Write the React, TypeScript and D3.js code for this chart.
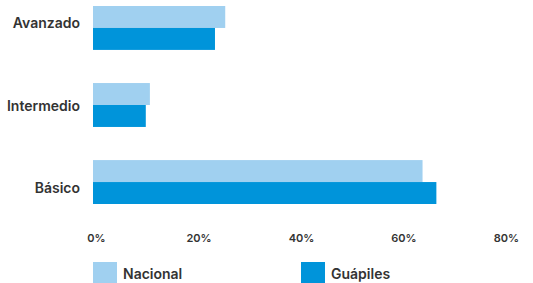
import * as d3 from "d3";
import { useEffect, useRef } from "react";

const categories = ["Avanzado", "Intermedio", "Básico"];
const seriesNames = ["Nacional", "Guápiles"];
const nacional = [25.8, 11.1, 64.3];
const guapiles = [23.8, 10.3, 67.0];
const xTicks = [0, 20, 40, 60, 80];

const colors = ["#a0d0f0", "#0094da"];
const textColor = "#333333";
const font = "Inter, 'Noto Sans', sans-serif";

const width = 533;
const height = 283;

export default function App() {
  const svgRef = useRef<SVGSVGElement>(null);

  useEffect(() => {
    const svg = d3.select(svgRef.current);
    svg.selectAll("*").remove();

    const x = d3.scaleLinear().domain([0, 80]).range([93, 503]);

    const y = d3
      .scaleBand<string>()
      .domain(categories)
      .range([6, 204])
      .paddingInner(0.43)
      .paddingOuter(0);

    const ySub = d3
      .scaleBand<string>()
      .domain(seriesNames)
      .range([0, y.bandwidth()]);

    // labels sit a little off the band centres in the original
    const yLabel = d3.scalePoint<string>().domain(categories).range([28, 193]);

    const values = [nacional, guapiles];

    // bars
    seriesNames.forEach((s, si) => {
      svg
        .append("g")
        .selectAll("rect")
        .data(categories)
        .join("rect")
        .attr("x", x(0))
        .attr("y", (c) => (y(c) as number) + (ySub(s) as number))
        .attr("width", (_c, i) => x(values[si][i]) - x(0))
        .attr("height", ySub.bandwidth())
        .attr("fill", colors[si]);
    });

    // category labels
    svg
      .append("g")
      .selectAll("text")
      .data(categories)
      .join("text")
      .attr("x", 80)
      .attr("y", (c) => yLabel(c) as number)
      .attr("text-anchor", "end")
      .attr("font-family", font)
      .attr("font-weight", 600)
      .attr("font-size", 14)
      .attr("fill", textColor)
      .text((c) => c);

    // x tick labels
    svg
      .append("g")
      .selectAll("text")
      .data(xTicks)
      .join("text")
      .attr("x", (d) => x(d) + 3.5)
      .attr("y", 242)
      .attr("text-anchor", "middle")
      .attr("font-family", font)
      .attr("font-weight", 600)
      .attr("font-size", 11)
      .attr("fill", textColor)
      .text((d) => `${d}%`);

    // legend
    const legendX = d3.scalePoint<string>().domain(seriesNames).range([93, 301]);
    const lg = svg
      .append("g")
      .selectAll("g")
      .data(seriesNames)
      .join("g")
      .attr("transform", (s) => `translate(${legendX(s)},262)`);
    lg.append("rect")
      .attr("width", 24)
      .attr("height", 22)
      .attr("fill", (_s, i) => colors[i]);
    lg.append("text")
      .attr("x", 30)
      .attr("y", 17)
      .attr("font-family", font)
      .attr("font-weight", 600)
      .attr("font-size", 14)
      .attr("fill", textColor)
      .text((s) => s);
  }, []);

  return (
    <svg
      ref={svgRef}
      width={width}
      height={height}
      style={{ position: "absolute", left: 0, top: 0, background: "#fff" }}
    />
  );
}
